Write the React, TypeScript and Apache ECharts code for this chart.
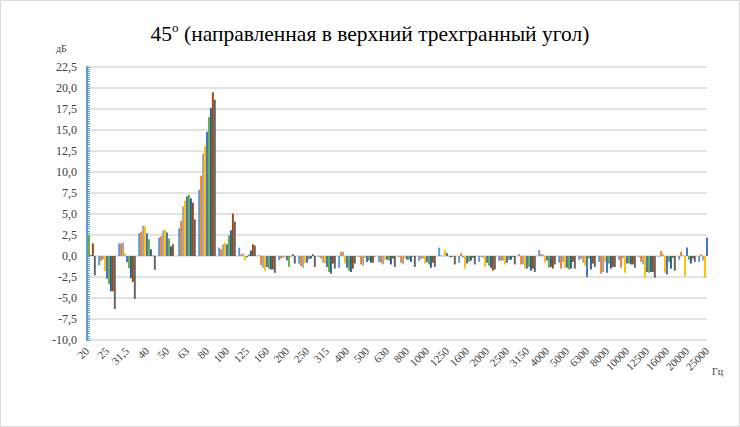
import React, { useEffect, useRef } from 'react';
import * as echarts from 'echarts';

const categories = ['20', '25', '31,5', '40', '50', '63', '80', '100', '125', '160', '200', '250', '315', '400', '500', '630', '800', '1000', '1250', '1600', '2000', '2500', '3150', '4000', '5000', '6300', '8000', '10000', '12500', '16000', '20000', '25000'];

const yTicks = { min: -10, max: 22.5, step: 2.5 };

const seriesNames = ['Ряд1', 'Ряд2', 'Ряд3', 'Ряд4', 'Ряд5', 'Ряд6', 'Ряд7', 'Ряд8', 'Ряд9'];
const colors = ['#5B9BD5', '#ED7D31', '#A5A5A5', '#FFC000', '#4472C4', '#70AD47', '#255E91', '#9E480E', '#636363'];

const s1 = [0, -1.1, 1.5, 2.7, 2.2, 3.3, 7.9, 1.0, 1.0, 0.1, -0.5, -0.9, -0.1, -1.4, -0.1, -0.7, -0.1, -0.55, 1.0, -0.8, -0.7, -0.55, 0.2, 0.7, -0.8, -0.45, -0.7, -0.45, -0.1, -0.1, -0.45, -0.7];
const s2 = [0, -0.6, 1.5, 2.9, 2.35, 4.2, 9.55, 0.8, 0.2, -1.1, -0.3, -1.2, -0.3, 0.5, -1.0, -0.8, -0.8, -0.3, 0.05, 0.35, -0.1, -0.55, -1.0, 0.2, -1.5, -0.3, -2.1, -1.4, -0.7, 0.6, 0.5, 0.2];
const s3 = [0, -0.4, 1.6, 3.6, 3.0, 5.9, 12.2, 1.4, 0.3, -1.4, -0.2, -1.4, -0.8, 0.5, -1.15, -1.0, -1.0, -0.3, -0.05, -0.2, -0.2, -0.55, -1.0, 0.2, -0.7, -0.8, -1.9, -0.3, -1.0, 0.2, 0.05, -0.55];
const s4 = [0, -1.8, 0.3, 3.5, 3.15, 6.6, 13.1, 1.6, -0.5, -1.75, -0.2, -0.8, -0.9, -0.9, -0.25, -0.45, -0.3, -0.9, 0.7, -1.5, -1.3, -1.0, -1.5, -0.8, -1.4, -1.15, -0.7, -2.0, -2.6, -2.0, -2.4, -2.6];
const s5 = [0, -2.7, -0.75, 2.7, 2.8, 7.1, 14.8, 1.4, -0.15, -1.3, -0.55, -0.8, -1.3, -1.4, -0.7, -0.45, -0.45, -0.7, 0.35, -0.9, -0.8, -0.8, -1.5, -0.55, -1.4, -2.5, -2.0, -0.9, -1.9, -2.2, 1.0, 2.2];
const s6 = [2.5, -3.35, -1.45, 2.0, 2.1, 7.3, 16.55, 2.45, 0.2, -1.5, -1.3, -0.4, -1.9, -1.75, -0.55, -0.55, -0.45, -1.0, -0.05, -0.7, -1.15, -0.45, -1.3, -1.4, -1.6, -0.3, -0.9, -0.9, -2.0, -0.7, -0.45, 0];
const s7 = [0.1, -4.2, -2.65, 0.8, 1.15, 6.85, 17.6, 3.05, 0.65, -1.6, -0.05, -0.3, -2.1, -1.9, -0.8, -1.0, -0.7, -1.4, -0.15, -0.55, -1.4, -0.45, -1.75, -1.3, -1.5, -1.6, -1.5, -1.0, -1.9, -1.5, -0.9, 0];
const s8 = [1.5, -4.2, -3.1, 0.05, 1.4, 6.35, 19.5, 5.05, 1.4, -1.6, 0.2, 0.2, -0.9, -1.5, -0.8, -0.3, -0.05, -0.8, -0.05, -0.2, -1.75, -0.1, -1.5, -1.5, -0.7, -0.9, -1.3, -1.0, -1.9, -0.2, -0.3, 0];
const s9 = [-2.3, -6.3, -5.1, -1.65, 0, 4.35, 18.6, 4.1, 1.25, -2.0, -0.9, -1.3, -1.5, -0.9, -0.05, -1.3, -1.3, -1.3, -1.0, -1.0, -1.6, -1.0, -1.9, -1.0, -1.5, -1.3, -1.3, -1.4, -2.6, -1.75, -0.7, 0];

const allSeries = [s1, s2, s3, s4, s5, s6, s7, s8, s9];

const FONT = 'Liberation Serif, Times New Roman, serif';

export default function App() {
  const ref = useRef<HTMLDivElement>(null);

  useEffect(() => {
    document.body.style.margin = '0';
    const chart = echarts.init(ref.current as HTMLDivElement, null, { renderer: 'svg' });
    chart.setOption({
      animation: false,
      backgroundColor: '#FFFFFF',
      title: {
        left: 'center',
        top: 16,
        text: '{a|45}{s|o}{a| (направленная в верхний трехгранный угол)}',
        textStyle: {
          fontWeight: 'normal',
          fontFamily: FONT,
          rich: {
            a: { fontFamily: FONT, fontSize: 21.5, fontWeight: 'normal', color: '#000000', lineHeight: 25 },
            s: { fontFamily: FONT, fontSize: 13, fontWeight: 'normal', color: '#000000', verticalAlign: 'top', lineHeight: 25 },
          },
        },
      },
      graphic: [
        {
          type: 'rect',
          shape: { x: 0.5, y: 0.5, width: 739, height: 426 },
          style: { fill: 'none', stroke: '#D9D9D9', lineWidth: 1 },
          silent: true,
        },
        {
          type: 'text',
          left: 56,
          top: 43,
          style: { text: 'дБ', font: `10px ${FONT}`, fill: '#404040' },
        },
        {
          type: 'text',
          left: 712,
          top: 366,
          style: { text: 'Гц', font: `10px ${FONT}`, fill: '#404040' },
        },
      ],
      grid: { left: 87, right: 33, top: 67, bottom: 87, containLabel: false },
      xAxis: {
        type: 'category',
        data: categories,
        boundaryGap: false,
        axisLine: { show: false, onZero: false },
        axisTick: { show: false },
        splitLine: { show: false },
        axisLabel: {
          interval: 0,
          rotate: 45,
          margin: 9,
          fontFamily: FONT,
          fontSize: 11,
          color: '#404040',
        },
      },
      yAxis: {
        type: 'value',
        min: yTicks.min,
        max: yTicks.max,
        interval: yTicks.step,
        axisLine: { show: true, lineStyle: { color: '#5B9BD5', width: 2 } },
        axisTick: { show: true, inside: true, length: 3, lineStyle: { color: '#5B9BD5', width: 1 } },
        minorTick: { show: true, splitNumber: 10, length: 3, lineStyle: { color: '#5B9BD5', width: 1 } },
        splitLine: { show: true, lineStyle: { color: '#D9D9D9', width: 1.5 } },
        axisLabel: {
          margin: 10,
          fontFamily: FONT,
          fontSize: 12,
          color: '#404040',
          formatter: (v: number) => v.toFixed(1).replace('.', ','),
        },
      },
      series: allSeries.map((d, i) => ({
        name: seriesNames[i],
        type: 'bar',
        data: d,
        clip: true,
        barGap: '0%',
        barCategoryGap: '12%',
        itemStyle: { color: colors[i] },
        silent: true,
      })),
    });
    return () => chart.dispose();
  }, []);

  return <div ref={ref} style={{ width: 740, height: 427 }} />;
}
